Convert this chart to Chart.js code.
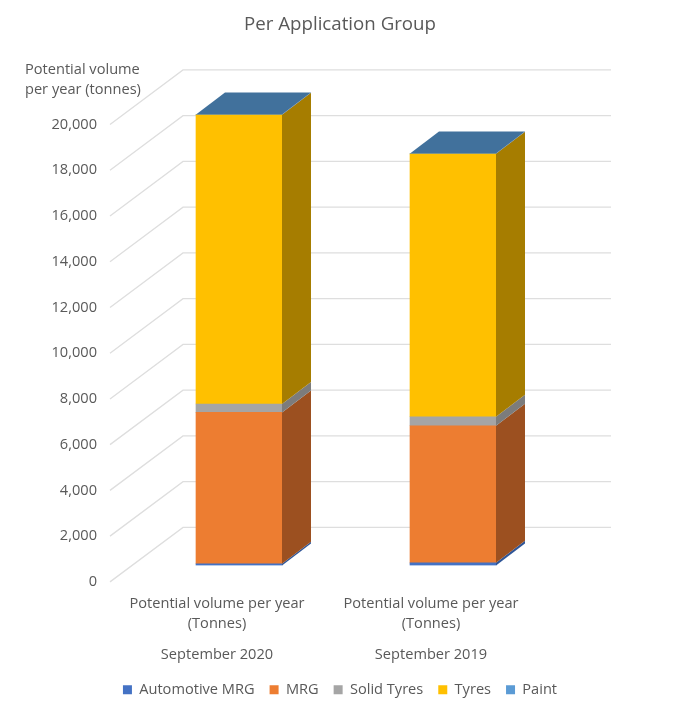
<!DOCTYPE html>
<html>
<head>
<meta charset="utf-8">
<title>Per Application Group</title>
<script src="https://cdn.jsdelivr.net/npm/chart.js@4"></script>
<style>
  html, body { margin: 0; padding: 0; background: #fff; }
  canvas { display: block; }
</style>
</head>
<body>
<canvas id="chart" width="680" height="721"></canvas>
<script>
// values, tonnes
var volumeLabels = [['Potential volume per year', '(Tonnes)'], ['Potential volume per year', '(Tonnes)']];
var periods = ['September 2020', 'September 2019'];
var automotiveMrg = [70, 110];
var mrg = [6617, 5995];
var solidTyres = [368, 394];
var tyres = [12645, 11495];
var paint = [15, 15];
var yTicks = [0, 2000, 4000, 6000, 8000, 10000, 12000, 14000, 16000, 18000, 20000];

var grey = '#595959';
var font = 'Open Sans';
var fontSize = 14.6;

// the fake 3d: back wall offset, and where the bars stand on the floor
var wallX = 73, wallY = 54.5;
var barX = 22, barY = 16.5;
var sideX = 29, sideY = 22;

var sideColors = ['#2f5597', '#9c5020', '#7c7c7c', '#a67d00', '#41719c'];
var topColor = '#41719c';

function poly(ctx, color, pts) {
  ctx.fillStyle = color;
  ctx.beginPath();
  ctx.moveTo(pts[0], pts[1]);
  for (var i = 2; i < pts.length; i += 2) ctx.lineTo(pts[i], pts[i + 1]);
  ctx.closePath();
  ctx.fill();
}

var depth3d = {
  id: 'depth3d',
  beforeDatasetsDraw: function (chart) {
    var ctx = chart.ctx, a = chart.chartArea, y = chart.scales.y;
    ctx.save();
    ctx.strokeStyle = '#dedede';
    ctx.lineWidth = 1.3;
    y.ticks.forEach(function (t) {
      var py = y.getPixelForValue(t.value);
      ctx.beginPath();
      ctx.moveTo(a.left, py);
      ctx.lineTo(a.left + wallX, py - wallY);
      ctx.lineTo(a.right + wallX, py - wallY);
      ctx.stroke();
    });
    ctx.restore();
    // bars stand further back than the axis plane
    ctx.save();
    ctx.translate(barX, -barY);
  },
  afterDatasetsDraw: function (chart) {
    var ctx = chart.ctx;
    chart.data.datasets.forEach(function (ds, d) {
      chart.getDatasetMeta(d).data.forEach(function (bar) {
        var r = bar.x + bar.width / 2, l = bar.x - bar.width / 2;
        poly(ctx, sideColors[d], [r, bar.y, r + sideX, bar.y - sideY, r + sideX, bar.base - sideY, r, bar.base]);
        if (d === chart.data.datasets.length - 1) {
          poly(ctx, topColor, [l, bar.y, r, bar.y, r + sideX, bar.y - sideY, l + sideX, bar.y - sideY]);
        }
      });
    });
    ctx.restore();
  },
  afterDraw: function (chart) {
    var ctx = chart.ctx;
    ctx.save();
    ctx.fillStyle = grey;
    ctx.font = fontSize + 'px "' + font + '"';
    ctx.textBaseline = 'middle';
    ctx.fillText('Potential volume', 25, 70);
    ctx.fillText('per year (tonnes)', 25, 90);
    ctx.restore();
  }
};

var chart = new Chart(document.getElementById('chart'), {
  type: 'bar',
  data: {
    labels: volumeLabels,
    datasets: [
      { label: 'Automotive MRG', data: automotiveMrg, backgroundColor: '#4472c4' },
      { label: 'MRG', data: mrg, backgroundColor: '#ed7d31' },
      { label: 'Solid Tyres', data: solidTyres, backgroundColor: '#a5a5a5' },
      { label: 'Tyres', data: tyres, backgroundColor: '#ffc000' },
      { label: 'Paint', data: paint, backgroundColor: '#5b9bd5' }
    ]
  },
  options: {
    responsive: false,
    animation: false,
    layout: { padding: { bottom: 14 } },
    datasets: { bar: { barThickness: 86 } },
    scales: {
      x: {
        stacked: true,
        grid: { display: false, drawTicks: false },
        border: { display: false },
        ticks: { color: grey, font: { family: font, size: fontSize, lineHeight: 1.37 }, padding: 12, maxRotation: 0 }
      },
      x2: {
        type: 'category',
        labels: periods,
        position: 'bottom',
        grid: { display: false, drawTicks: false },
        border: { display: false },
        afterFit: function (s) { s.height += 4; },
        ticks: { color: grey, font: { family: font, size: fontSize }, padding: 0, maxRotation: 0 }
      },
      y: {
        stacked: true,
        min: 0,
        max: 20000,
        grid: { display: false, drawTicks: false },
        border: { display: false },
        afterFit: function (s) { s.width = 110; },
        afterBuildTicks: function (s) { s.ticks = yTicks.map(function (v) { return { value: v }; }); },
        ticks: {
          color: grey,
          font: { family: font, size: fontSize },
          padding: 13,
          callback: function (v) { return v.toLocaleString('en-US'); }
        }
      },
      // empty axis, only keeps the room for the back wall on the right
      spacer: {
        position: 'right',
        grid: { display: false, drawTicks: false },
        border: { display: false },
        ticks: { display: false },
        afterFit: function (s) { s.width = 142; }
      }
    },
    plugins: {
      title: {
        display: true,
        text: 'Per Application Group',
        color: grey,
        font: { family: font, size: 18.7, weight: 'normal' },
        padding: { top: 13, bottom: 89 }
      },
      legend: {
        position: 'bottom',
        labels: {
          color: grey,
          font: { family: font, size: fontSize },
          boxWidth: 9,
          boxHeight: 9,
          padding: 15
        }
      },
      tooltip: { enabled: false }
    }
  },
  plugins: [depth3d]
});
</script>
</body>
</html>
